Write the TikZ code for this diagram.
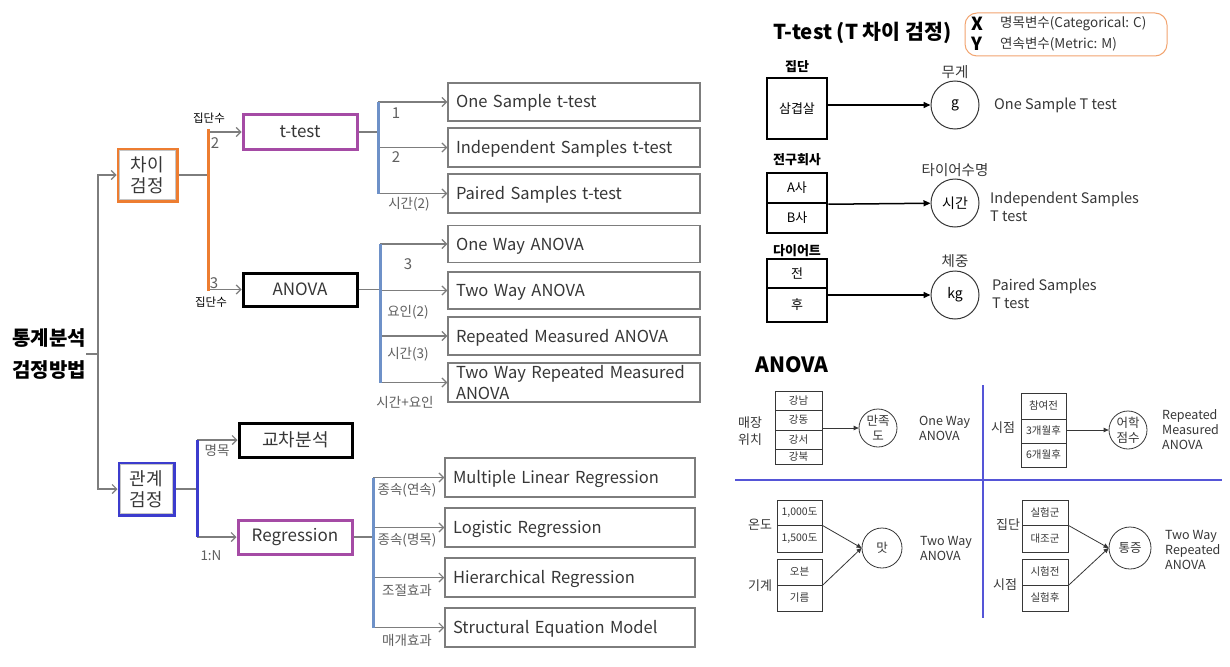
\documentclass[tikz,border=0pt]{standalone}
\usepackage{fontspec}
\setmainfont{Noto Sans CJK KR}
\usetikzlibrary{arrows.meta}
\definecolor{org}{RGB}{237,125,49}
\definecolor{pur}{RGB}{165,75,165}
\definecolor{dblue}{RGB}{60,60,205}
\definecolor{lblue}{RGB}{110,145,200}
\definecolor{xblue}{RGB}{85,85,215}
\definecolor{gln}{RGB}{125,125,125}
\definecolor{gtx}{RGB}{55,55,55}
\definecolor{ltx}{RGB}{95,95,95}
\newcommand\myfs[2]{\fontsize{#1}{#2}\selectfont}
\begin{document}
\begin{tikzpicture}[x=1pt,y=-1pt,
  gl/.style={draw=gln,line width=1.5pt},
  garr/.style={gl,-{Straight Barb[length=4.5pt,width=9pt,line width=1.2pt]}},
  resbox/.style={draw=gln,line width=1.5pt,minimum width=252pt,minimum height=38pt,text width=236pt,align=left,inner xsep=8pt,inner ysep=0pt,text=gtx,font=\myfs{16.5}{19},text height=12pt,text depth=0pt},
  catbox/.style={line width=3pt,minimum width=114pt,minimum height=34pt,inner sep=0pt,text=gtx,font=\myfs{17}{20}},
  tbox/.style={line width=3pt,minimum width=57pt,minimum height=52pt,inner sep=0pt,text=gtx,align=center,font=\myfs{18}{21}},
  lbl/.style={text=ltx,font=\myfs{13.5}{16},inner sep=0pt},
  num/.style={text=ltx,font=\myfs{15}{17},inner sep=0pt},
  kl/.style={font=\myfs{11.5}{13},inner sep=0pt},
  tarr/.style={draw=black,line width=1.5pt,-{Triangle[length=7pt,width=6pt]}},
  tcell/.style={draw,line width=2.5pt,minimum width=60pt,inner sep=0pt,font=\myfs{13}{15}},
  tcirc/.style={draw=gtx,line width=1pt,circle,minimum size=48pt,inner sep=0pt,font=\myfs{14}{16}},
  ttx/.style={inner sep=0pt,font=\myfs{14.5}{18},text=gtx},
  thd/.style={inner sep=0pt,font=\bfseries\myfs{13}{15}},
  qcell/.style={draw=gtx,line width=0.8pt,minimum width=45pt,inner sep=0pt,text=gtx,font=\myfs{10.5}{12}},
  qcirc/.style={draw=gtx,line width=0.8pt,circle,minimum size=38pt,inner sep=0pt,align=center,text=gtx,font=\myfs{12.5}{15}},
  qtx/.style={inner sep=0pt,align=left,text=gtx,font=\myfs{12.5}{15}},
  qlb/.style={inner sep=0pt,align=center,text=gtx,font=\myfs{13}{17}},
  qarr/.style={draw=gtx,line width=0.8pt,-{Triangle[length=5pt,width=4.5pt]}}
]
\fill[white] (0,0) rectangle (1230,666);
\useasboundingbox (0,0) rectangle (1230,666);

% ---------------- left tree ----------------
\node[font=\bfseries\myfs{20}{22},anchor=east,inner sep=0pt] (root1) at (86,338) {통계분석};
\node[font=\bfseries\myfs{20}{22},anchor=east,inner sep=0pt] (root2) at (86,370) {검정방법};
\coordinate (rj) at (86,354);
\coordinate (trunk) at (98,354);
\draw[gl] (rj) -- (trunk);

\node[tbox,draw=org,minimum width=59pt] (chai) at (147.5,175) {차이\\검정};
\draw[gray!45,line width=1pt] ([shift={(3,3)}]chai.north west) rectangle ([shift={(-3,-3)}]chai.south east);
\node[tbox,draw=dblue,minimum width=55pt] (gwan) at (146.5,489) {관계\\검정};
\draw[gray!45,line width=1pt] ([shift={(3,3)}]gwan.north west) rectangle ([shift={(-3,-3)}]gwan.south east);
\draw[garr] (trunk) |- (chai);
\draw[garr] (trunk) |- (gwan);

% difference tests
\coordinate (ov) at (208,175);
\coordinate (ot) at (208,129);
\coordinate (ob) at (208,291);
\draw[gl] (chai) -- (ov);
\node[catbox,draw=pur] (ttest) at (300,132) {t-test};
\node[catbox,draw=black,minimum height=33pt] (anova) at (300,289.5) {ANOVA};
\draw[garr] (ttest.west -| ov) -- (ttest);
\draw[garr] (anova.west -| ov) -- (anova);
\draw[org,line width=3pt] (ot) -- (ob);
\node[kl] (jd1) at (209,118) {집단수};
\node[num] (n2a) at (215,143) {2};
\node[num] (n3a) at (214,283) {3};
\node[kl] (jd2) at (211,302) {집단수};

% t-test branch
\coordinate (tv) at (378,132);
\draw[gl] (ttest) -- (tv);
\node[resbox] (b1) at (574,102) {One Sample t-test};
\node[resbox,minimum height=39pt] (b2) at (574,147.5) {Independent Samples t-test};
\node[resbox,minimum height=39pt] (b3) at (574,193.5) {Paired Samples t-test};
\foreach \b in {b1,b2,b3} \draw[garr] (\b.west -| tv) -- (\b);
\draw[lblue,line width=3pt] (b1.west -| tv) -- (b3.west -| tv);
\node[num] (l1) at (396,113) {1};
\node[num] (l2) at (396,157) {2};
\node[lbl] (l3) at (409,204) {시간(2)};

% ANOVA branch
\coordinate (av) at (380,289.5);
\draw[gl] (anova) -- (av);
\node[resbox,minimum height=37pt] (b4) at (574,244) {One Way ANOVA};
\node[resbox,minimum height=37pt] (b5) at (574,290.5) {Two Way ANOVA};
\node[resbox] (b6) at (574,336) {Repeated Measured ANOVA};
\node[resbox,minimum height=39pt,font=\myfs{16.5}{21},text height=,text depth=] (b7) at (574,382.5) {Two Way Repeated Measured\\ANOVA};
\foreach \b in {b4,b5,b6,b7} \draw[garr] (\b.west -| av) -- (\b);
\draw[lblue,line width=3pt] (b4.west -| av) -- (b7.west -| av);
\node[num] (l4) at (408,264) {3};
\node[lbl] (l5) at (408,312) {요인(2)};
\node[lbl] (l6) at (408,354) {시간(3)};
\node[lbl] (l7) at (405,402) {시간+요인};

% relation tests
\coordinate (gv) at (197,489);
\draw[gl] (gwan) -- (gv);
\node[catbox,draw=black,minimum width=113pt,font=\myfs{18}{20}] (gyo) at (295.5,440) {교차분석};
\node[catbox,draw=pur] (reg) at (295,537) {Regression};
\draw[garr] (gyo.west -| gv) -- (gyo);
\draw[garr] (reg.west -| gv) -- (reg);
\draw[dblue,line width=3pt] (gyo.west -| gv) -- (reg.west -| gv);
\node[lbl] (m1) at (217,450) {명목};
\node[lbl] (m2) at (211,556) {1:N};

\coordinate (rv) at (373,537);
\draw[gl] (reg) -- (rv);
\node[resbox,minimum width=250pt,text width=234pt,minimum height=39pt] (b8) at (570,477.5) {Multiple Linear Regression};
\node[resbox,minimum width=250pt,text width=234pt,minimum height=39pt] (b9) at (570,527.5) {Logistic Regression};
\node[resbox,minimum width=250pt,text width=234pt,minimum height=39pt] (b10) at (570,577.5) {Hierarchical Regression};
\node[resbox,minimum width=250pt,text width=234pt,minimum height=39pt] (b11) at (570,627.5) {Structural Equation Model};
\foreach \b in {b8,b9,b10,b11} \draw[garr] (\b.west -| rv) -- (\b);
\draw[lblue,line width=3pt] (b8.west -| rv) -- (b11.west -| rv);
\node[lbl] (r1) at (407,490) {종속(연속)};
\node[lbl] (r2) at (407,540) {종속(명목)};
\node[lbl] (r3) at (407,590) {조절효과};
\node[lbl] (r4) at (407,640) {매개효과};

% ---------------- T-test panel ----------------
\node[font=\bfseries\myfs{20.5}{22},anchor=west,inner sep=0pt] (ttl) at (773,33) {T-test (T 차이 검정)};
\node[draw=org!70,line width=1pt,rounded corners=12pt,minimum width=202pt,minimum height=43pt] (legend) at (1066,34.5) {};
\node[font=\bfseries\myfs{18}{19},inner sep=0pt] (X) at (977,24) {X};
\node[font=\bfseries\myfs{18}{19},inner sep=0pt] (Y) at (977,44) {Y};
\node[font=\myfs{13.5}{14},anchor=west,inner sep=0pt,text=gtx] (xd) at (1000,24) {명목변수(Categorical: C)};
\node[font=\myfs{13.5}{14},anchor=west,inner sep=0pt,text=gtx] (yd) at (1000,44) {연속변수(Metric: M)};

\node[thd] (g1) at (797,67) {집단};
\node[tcell,minimum height=61pt] (sam) at (797,108.5) {삼겹살};
\node[tcirc] (c1) at (955,105) {g};
\node[ttx] (w1) at (955,72) {무게};
\node[ttx,anchor=west] (d1) at (994,105) {One Sample T test};
\draw[tarr] (sam.east |- c1) -- (c1);

\node[thd] (g2) at (797,160) {전구회사};
\node[tcell,minimum height=30pt] (ca) at (797,188) {A사};
\node[tcell,minimum height=30pt] (cb) at (797,218) {B사};
\node[tcirc] (c2) at (955,203) {시간};
\node[ttx] (w2) at (955,170) {타이어수명};
\node[ttx,anchor=west,align=left] (d2) at (990,207) {Independent Samples\\T test};
\draw[tarr] (ca.south east) -- (c2);

\node[thd] (g3) at (797,251) {다이어트};
\node[tcell,minimum height=29pt] (cj) at (797,273.5) {전};
\node[tcell,minimum height=34pt] (ch) at (797,305) {후};
\node[tcirc] (c3) at (955,295) {kg};
\node[ttx] (w3) at (955,261) {체중};
\node[ttx,anchor=west,align=left] (d3) at (992,294) {Paired Samples\\T test};
\draw[tarr] (ch.east |- c3) -- (c3);

% ---------------- ANOVA panel ----------------
\node[font=\bfseries\myfs{21}{22},anchor=west,inner sep=0pt] (an) at (755,365) {ANOVA};
\coordinate (vt) at (983,385);
\coordinate (vb) at (983,618);
\coordinate (hl) at (735,480);
\coordinate (hr) at (1222,480);
\draw[xblue,line width=1.2pt] (vt) -- (vb);
\draw[xblue,line width=1.2pt] (hl) -- (hr);

% Q1
\node[qcell,minimum width=47pt,minimum height=19pt] (q1a) at (798.5,400.5) {강남};
\node[qcell,minimum width=47pt,minimum height=20pt] (q1b) at (798.5,420) {강동};
\node[qcell,minimum width=47pt,minimum height=19pt] (q1c) at (798.5,439.5) {강서};
\node[qcell,minimum width=47pt,minimum height=15pt] (q1d) at (798.5,456.5) {강북};
\node[qlb] (q1l) at (750,431) {매장\\위치};
\node[qcirc] (q1o) at (878,428) {만족\\도};
\draw[qarr] (q1c.east |- q1o) -- (q1o);
\node[qtx,anchor=west] (q1t) at (919,428) {One Way\\ANOVA};

% Q2
\node[qcell,minimum height=26pt] (q2a) at (1043.5,406) {참여전};
\node[qcell,minimum height=24pt] (q2b) at (1043.5,431) {3개월후};
\node[qcell,minimum height=24pt] (q2c) at (1043.5,455) {6개월후};
\node[qlb] (q2l) at (1003,428) {시점};
\node[qcirc] (q2o) at (1128,430) {어학\\점수};
\draw[qarr] (q2b.east |- q2o) -- (q2o);
\node[qtx,anchor=west] (q2t) at (1162,430) {Repeated\\Measured\\ANOVA};

% Q3
\node[qcell,minimum height=25pt] (q3a) at (799.5,512.5) {1,000도};
\node[qcell,minimum height=27pt] (q3b) at (799.5,538.5) {1,500도};
\node[qcell,minimum height=26pt] (q3c) at (799.5,572) {오븐};
\node[qcell,minimum height=26pt] (q3d) at (799.5,598) {기름};
\node[qlb] (q3l1) at (760,525) {온도};
\node[qlb] (q3l2) at (760,586) {기계};
\node[qcirc,minimum size=40pt] (q3o) at (882,548) {맛};
\draw[qarr] (q3a.south east) -- (q3o.west);
\draw[qarr] (q3c.south east) -- (q3o.west);
\node[qtx,anchor=west] (q3t) at (920,548) {Two Way\\ANOVA};

% Q4
\node[qcell,minimum width=46pt,minimum height=25pt] (q4a) at (1045,512.5) {실험군};
\node[qcell,minimum width=46pt,minimum height=27pt] (q4b) at (1045,538.5) {대조군};
\node[qcell,minimum width=46pt,minimum height=26pt] (q4c) at (1045,572) {시험전};
\node[qcell,minimum width=46pt,minimum height=26pt] (q4d) at (1045,598) {실험후};
\node[qlb] (q4l1) at (1008,525) {집단};
\node[qlb] (q4l2) at (1005,585) {시점};
\node[qcirc,minimum size=42pt] (q4o) at (1130,548) {통증};
\draw[qarr] (q4a.south east) -- (q4o.west);
\draw[qarr] (q4c.south east) -- (q4o.west);
\node[qtx,anchor=west] (q4t) at (1165,550) {Two Way\\Repeated\\ANOVA};
\end{tikzpicture}
\end{document}
